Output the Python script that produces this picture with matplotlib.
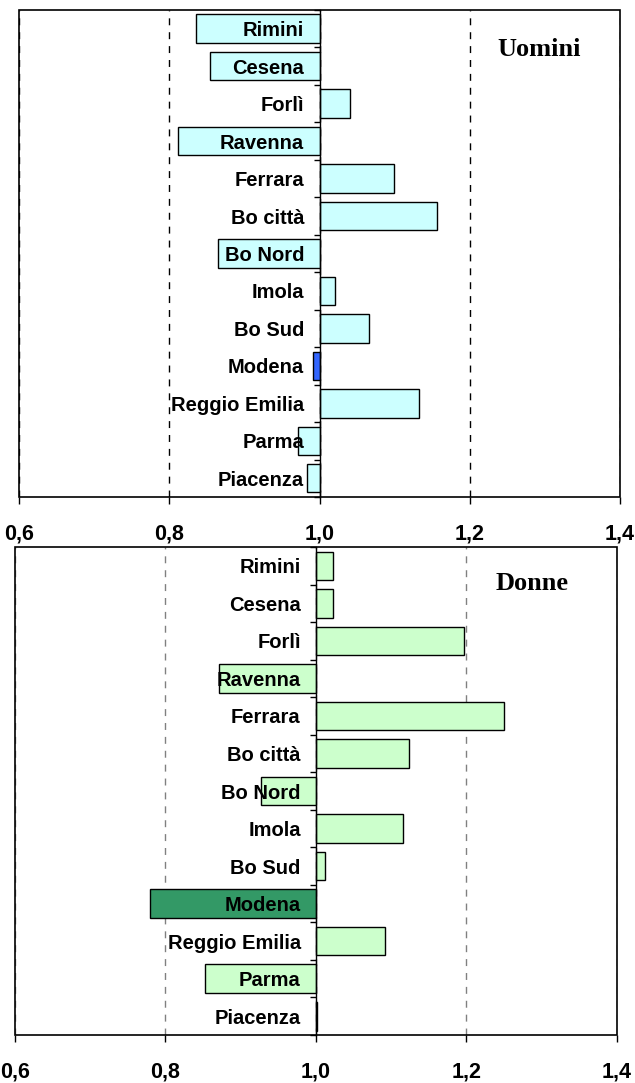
import numpy as np
import matplotlib.pyplot as plt
from matplotlib.ticker import FixedLocator

# Dati
zone = ['Rimini', 'Cesena', 'Forlì', 'Ravenna', 'Ferrara', 'Bo città', 'Bo Nord',
        'Imola', 'Bo Sud', 'Modena', 'Reggio Emilia', 'Parma', 'Piacenza']
uomini = [0.836, 0.854, 1.040, 0.811, 1.099, 1.156, 0.865, 1.021, 1.066, 0.991, 1.133, 0.972, 0.984]
donne = [1.023, 1.023, 1.197, 0.871, 1.250, 1.124, 0.927, 1.115, 1.012, 0.780, 1.092, 0.853, 1.002]
xticks = [0.6, 0.8, 1.0, 1.2, 1.4]
xticklabels = ['0,6', '0,8', '1,0', '1,2', '1,4']
evidenziata = 'Modena'

fig = plt.figure(figsize=(6.35, 10.83), dpi=100)
ax1 = fig.add_axes([0.0299, 0.5411, 0.9465, 0.4497])
ax2 = fig.add_axes([0.0236, 0.0443, 0.9480, 0.4506])

pannelli = [
    (ax1, uomini, 'Uomini', '#CCFFFF', '#3366FF', 'black', 0.865, 0.918),
    (ax2, donne, 'Donne', '#CCFFCC', '#339966', '#808080', 0.859, 0.926),
]

for ax, valori, titolo, col, col_ev, col_grid, x_tit, y_tit in pannelli:
    y = np.arange(len(zone))
    colori = [col_ev if z == evidenziata else col for z in zone]
    ax.barh(y, np.array(valori) - 1.0, left=1.0, height=0.76,
            color=colori, edgecolor='black', linewidth=1.0)

    ax.set_xlim(0.6, 1.4)
    ax.set_ylim(len(zone) - 0.5, -0.5)

    # asse delle categorie su 1,0
    ax.spines['left'].set_position(('data', 1.0))
    ax.spines['left'].set_linewidth(1.0)
    ax.set_yticks(y)
    ax.set_yticklabels(zone, fontfamily='Liberation Sans', fontweight='bold', fontsize=14.5)
    ax.yaxis.set_minor_locator(FixedLocator(np.arange(len(zone) + 1) - 0.5))
    ax.tick_params(axis='y', which='major', length=0, pad=11)
    ax.tick_params(axis='y', which='minor', length=4, width=1, direction='out')

    ax.set_xticks(xticks)
    ax.set_xticklabels(xticklabels, fontfamily='Liberation Sans', fontweight='bold', fontsize=15.5)
    ax.tick_params(axis='x', which='major', length=5, width=1, direction='out', pad=14)
    ax.grid(axis='x', color=col_grid, linestyle=(0, (5, 5)), linewidth=1.0)
    ax.set_axisbelow(False)
    for b in ax.patches:
        b.set_zorder(2)
    ax.xaxis.set_zorder(1)
    ax.yaxis.set_zorder(3)

    # riquadro
    rect = plt.Rectangle((0, 0), 1, 1, transform=ax.transAxes, fill=False,
                         edgecolor='black', linewidth=1.2, zorder=4, clip_on=False)
    ax.add_patch(rect)
    for s in ['top', 'right', 'bottom']:
        ax.spines[s].set_visible(False)

    ax.text(x_tit, y_tit, titolo, transform=ax.transAxes, ha='center', va='center',
            fontfamily='Liberation Serif', fontweight='bold', fontsize=19)

fig.savefig('out.png', dpi=100)
